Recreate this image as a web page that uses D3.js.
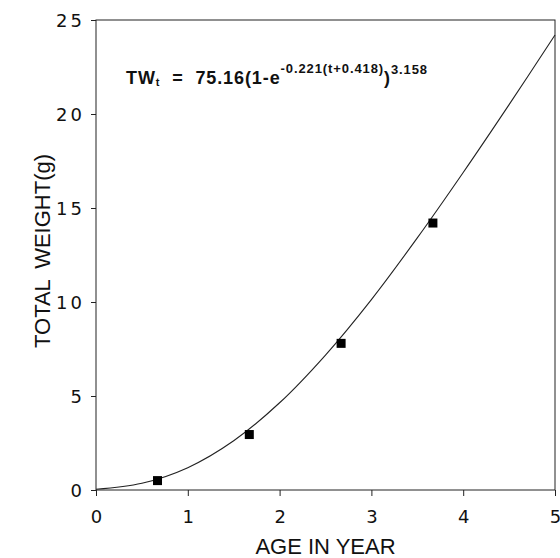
<!DOCTYPE html>
<html lang="en">
<head>
  <meta charset="utf-8">
  <title>Total weight by age</title>
  <script src="https://d3js.org/d3.v7.min.js"></script>
  <style>
    body { margin: 0; background: #fff; }
    .ticklbl { font-family: "DejaVu Sans", sans-serif; font-size: 18px; fill: #111; }
    .title { font-family: "Liberation Sans", Arial, sans-serif; font-size: 22px; fill: #111; }
    .eq { font-family: "Liberation Sans", Arial, sans-serif; font-weight: bold; fill: #111; }
  </style>
</head>
<body>
  <div id="chart"></div>
  <script>
    "use strict"

    // observed points
    var ages = [0.67, 1.67, 2.67, 3.67];
    var weights = [0.5, 2.95, 7.8, 14.2];

    // fitted curve, every half year
    var curveAges = [0, 0.5, 1, 1.5, 2, 2.5, 3, 3.5, 4, 4.5, 5];
    var curveWeights = [0.04, 0.36, 1.19, 2.62, 4.64, 7.18, 10.13, 13.41, 16.89, 20.5, 24.2];

    var xTicks = [0, 1, 2, 3, 4, 5];
    var yTicks = [0, 5, 10, 15, 20, 25];

    var larguraSVG = 560, alturaSVG = 558;
    var margin = {top: 20, right: 5, bottom: 68, left: 96},
        larguraVis = larguraSVG - margin.left - margin.right,
        alturaVis = alturaSVG - margin.top - margin.bottom;

    var svg = d3.select('#chart').append('svg')
        .attr('width', larguraSVG)
        .attr('height', alturaSVG);
    var g = svg.append('g')
        .attr('transform', 'translate(' + margin.left + ',' + margin.top + ')');

    var x = d3.scaleLinear().domain([0, 5]).range([0, larguraVis]);
    var y = d3.scaleLinear().domain([0, 25]).range([alturaVis, 0]);

    // frame
    g.append('rect')
      .attr('x', 0).attr('y', 0)
      .attr('width', larguraVis).attr('height', alturaVis)
      .attr('fill', 'none').attr('stroke', '#222').attr('stroke-width', 1);

    // axes
    var xAxis = g.append('g')
      .attr('transform', 'translate(0,' + alturaVis + ')')
      .call(d3.axisBottom(x).tickValues(xTicks).tickSize(6).tickPadding(14).tickFormat(d3.format('d')));
    var yAxis = g.append('g')
      .call(d3.axisLeft(y).tickValues(yTicks).tickSize(5).tickPadding(6).tickFormat(d3.format('d')));

    [xAxis, yAxis].forEach(function(a) {
      a.select('.domain').remove();
      a.selectAll('line').attr('stroke', '#222');
      a.selectAll('text').attr('class', 'ticklbl').attr('font-family', null).attr('font-size', null);
    });
    yAxis.selectAll('text').attr('letter-spacing', '3px').attr('dy', '0.36em');

    // fitted line
    var linha = d3.line()
      .x(function(d, i) { return x(curveAges[i]); })
      .y(function(d) { return y(d); })
      .curve(d3.curveCatmullRom);
    g.append('path')
      .datum(curveWeights)
      .attr('d', linha)
      .attr('fill', 'none')
      .attr('stroke', '#222')
      .attr('stroke-width', 1.1);

    // squares
    var s = 9;
    g.selectAll('rect.pt')
      .data(ages)
      .enter().append('rect')
        .attr('class', 'pt')
        .attr('x', function(d) { return x(d) - s / 2; })
        .attr('y', function(d, i) { return y(weights[i]) - s / 2; })
        .attr('width', s).attr('height', s)
        .attr('fill', '#000');

    // titles
    svg.append('text')
      .attr('class', 'title')
      .attr('text-anchor', 'middle')
      .attr('x', margin.left + larguraVis / 2)
      .attr('y', 554)
      .text('AGE IN YEAR');
    svg.append('text')
      .attr('class', 'title')
      .attr('text-anchor', 'middle')
      .attr('word-spacing', '5px')
      .attr('transform', 'translate(50,251) rotate(-90)')
      .text('TOTAL WEIGHT(g)');

    // equation
    var eq = svg.append('text').attr('class', 'eq').attr('x', 126).attr('y', 84)
      .attr('font-size', 18).attr('letter-spacing', '0.9px');
    eq.append('tspan').text('TW');
    eq.append('tspan').attr('font-size', 11).attr('dy', 2).text('t');
    eq.append('tspan').attr('dy', -2).text('  =  75.16(1-e');
    eq.append('tspan').attr('font-size', 13).attr('dy', -11).text('-0.221(t+0.418)');
    eq.append('tspan').attr('dy', 11).text(')');
    eq.append('tspan').attr('font-size', 13).attr('dy', -10).text('3.158');
    eq.attr('style', 'white-space: pre');
  </script>
</body>
</html>
